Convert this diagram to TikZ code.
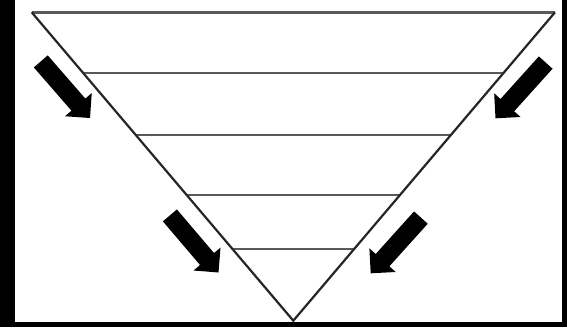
\documentclass[tikz,border=0pt]{standalone}
\usetikzlibrary{calc,shapes.arrows}
\begin{document}
\begin{tikzpicture}[x=1pt,y=-1pt,
  side/.style={line width=2.2pt, draw=black!85},
  level/.style={line width=2pt, draw=black!65},
  blockarrow/.style={single arrow, fill=black, draw=none, inner xsep=0pt, inner ysep=9pt,
    minimum height=75pt, single arrow head extend=8.5pt, single arrow tip angle=90,
    anchor=tip, outer sep=0pt}]
\fill[black] (0,0) rectangle (567,327);
\fill[white] (15,0) rectangle (562,321.5);
\useasboundingbox (0,0) rectangle (567,327);
\coordinate (TL) at (31.7,12.3);
\coordinate (TR) at (555,12.3);
\coordinate (B) at (293.3,320.7);
\draw[level, line width=2.4pt] (TL) -- (TR);
\foreach \t [count=\i] in {0.198,0.398,0.593,0.769} {
  \coordinate (l\i) at ($(TL)!\t!(B)$);
  \coordinate (r\i) at ($(TR)!\t!(B)$);
  \draw[level] (l\i) -- (r\i);
}
\draw[side, line join=miter] (TL) -- (B) -- (TR);
\node[blockarrow, rotate=-49] (a1) at (90,118) {};
\node[blockarrow, rotate=-132] (a2) at (495.5,118.3) {};
\node[blockarrow, rotate=-49.6] (a3) at (218.5,272.5) {};
\node[blockarrow, rotate=-132] (a4) at (370.7,273.3) {};
\end{tikzpicture}
\end{document}
